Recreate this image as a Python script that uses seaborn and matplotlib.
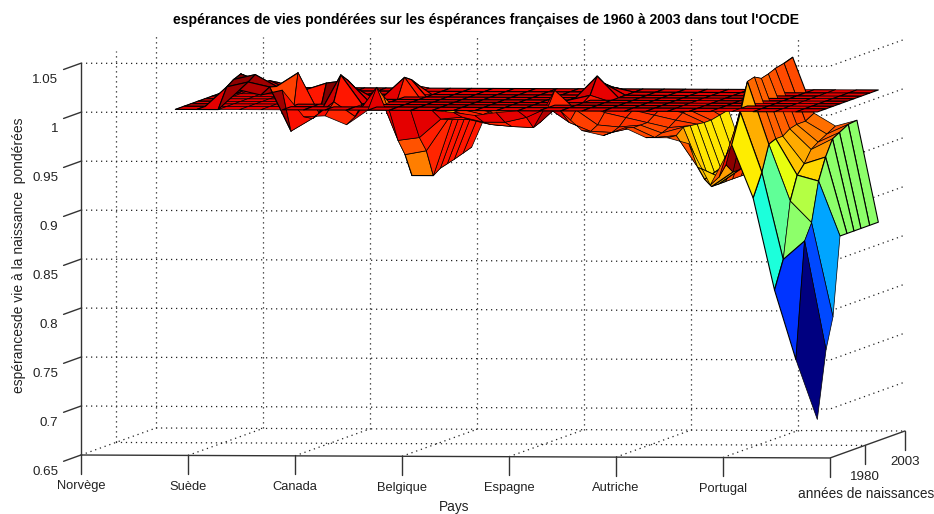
import numpy as np
import matplotlib
matplotlib.use("Agg")
import matplotlib.pyplot as plt
import seaborn as sns
from matplotlib.colors import Normalize
from mpl_toolkits.mplot3d.art3d import Poly3DCollection
from mpl_toolkits.mplot3d import proj3d

sns.set_style("white")
plt.rcParams["font.family"] = ["Liberation Sans", "DejaVu Sans"]

titre = "espérances de vies pondérées sur les éspérances françaises de 1960 à 2003 dans tout l'OCDE"
label_z = "espérancesde vie à la naissance  pondérées"
label_x = "Pays"
label_y = "années de naissances"
pays = ["Norvège", "Suède", "Canada", "Belgique", "Espagne", "Autriche", "Portugal"]
pays_pos = [1, 6, 11, 16, 21, 26, 31, 36]
annees_ticks = [1980, 2003]
z_ticks = [0.65, 0.7, 0.75, 0.8, 0.85, 0.9, 0.95, 1, 1.05]
z_labels = ["0.65", "0.7", "0.75", "0.8", "0.85", "0.9", "0.95", "1", "1.05"]
annees = [1965, 1970, 1974, 1978, 1982, 1986, 1990, 1995, 2000]
rangs = list(range(5, 36))
plan = 1.0
esperance = [
    [1, 1, 1, 1, 1, 1, 1, 1, 1],
    [1, 1, 1, 1, 1, 1.002, 1.002, 1.005, 1.005],
    [1, 1.02, 1.025, 1.028, 1.022, 1.02, 1.012, 1.01, 1.005],
    [1.02, 1.025, 1.03, 1.02, 1.01, 1.006, 1.003, 1, 1],
    [1.015, 1.02, 1.018, 1.012, 1.005, 1, 1, 1, 1],
    [1.02, .975, 1.032, 1.012, 1.005, 1, 1, 1, 1],
    [.993, .988, .99, 1.019, 1.005, 1, 1, 1, 1],
    [.994, 1.005, 1.03, 1.022, 1.012, 1, 1, 1, 1],
    [.985, .99, 1, 1, 1, 1, 1, 1, 1],
    [1, 1.02, 1.008, .998, 1, 1.02, 1.015, 1.005, 1],
    [1, .966, .949, .925, .985, .99, .99, .99, .99],
    [1, .969, .953, .925, .93, .932, .934, .937, .94],
    [1, .988, .985, .99, .99, .99, .99, .99, .99],
    [.998, .99, .985, .985, .985, .985, .987, .99, .99],
    [.995, .985, .98, .977, .976, .975, .985, .995, 1],
    [.998, .985, .978, .976, .975, .974, .98, .99, .995],
    [1, .99, .977, .98, .985, .99, .995, 1, 1],
    [1, 1, 1.015, 1, 1, 1, 1, 1, 1],
    [1, .985, .995, 1, 1.005, 1.022, 1.012, 1.005, 1],
    [.98, .976, .98, .99, .998, 1, 1, 1, 1],
    [.975, .975, .978, .985, .99, .99, .995, 1, 1],
    [.983, .98, .98, .98, .985, .99, .99, .995, 1],
    [.973, .97, .972, .975, .98, .985, .985, .99, .995],
    [.973, .972, .978, .977, .976, .975, .975, .977, .979],
    [.967, .94, .925, .915, .915, .915, .915, .915, .915],
    [.925, .93, .94, .93, .93, .97, .975, .98, .985],
    [.966, .996, 1.025, 1.027, 1.023, 1.025, 1.028, 1.03, 1.033],
    [.912, .935, .961, .964, .964, .969, .971, .971, .976],
    [.818, .846, .903, .927, .936, .948, .953, .958, .963],
    [.747, .865, .881, .921, .943, .959, .963, .968, .969],
    [.686, .754, .785, .865, .865, .865, .865, .865, .865],
]

Z = np.array(esperance, dtype=float)
cmap = matplotlib.colormaps["jet"]
norm = Normalize(vmin=Z.min(), vmax=1.03)

fig = plt.figure(figsize=(9.34, 5.14), dpi=100, facecolor="white")
ax = fig.add_axes([0, 0, 1, 1], projection="3d", proj_type="ortho", computed_zorder=False)
xmin, xmax, ymin, ymax, zmin, zmax = 1, 36, 1960, 2003, 0.65, 1.05
ax.set_xlim(xmin, xmax)
ax.set_ylim(ymin, ymax)
ax.set_zlim(zmin, zmax)
ax.set_box_aspect((753, 717, 392))
ax.view_init(elev=2.17, azim=-84, roll=0)
ax.set_axis_off()
ax.patch.set_alpha(0)

# Grid
dot = dict(color="#222222", lw=0.9, ls=(0, (1, 3)), zorder=1)
for z in z_ticks[1:]:
    ax.plot([xmin, xmax, xmax], [ymin, ymin, ymax], [z, z, z], **dot)
for x in pays_pos[:-1]:
    ax.plot([x, x], [ymax, ymax], [zmin, zmax], **dot)
    ax.plot([x, x], [ymin, ymax], [zmin, zmin], **dot)
ax.plot([xmin, xmin], [annees_ticks[0]] * 2, [zmin, zmax], **dot)
for y in annees_ticks:
    ax.plot([xmin, xmax], [y, y], [zmin, zmin], **dot)

# Surfaces (one collection so that the plane and the data are depth-sorted together)
polys, cols, widths = [], [], []
plane_col = cmap(norm(plan))
for i in range(len(rangs) - 1):
    for j in range(len(annees) - 1):
        xs = [rangs[i], rangs[i + 1], rangs[i + 1], rangs[i]]
        ys = [annees[j], annees[j], annees[j + 1], annees[j + 1]]
        polys.append(list(zip(xs, ys, [plan] * 4)))
        cols.append(plane_col)
        widths.append(0.5)
        zs = [Z[i, j], Z[i + 1, j], Z[i + 1, j + 1], Z[i, j + 1]]
        polys.append(list(zip(xs, ys, zs)))
        cols.append(cmap(norm(Z[i + 1, j])))
        widths.append(0.8)
coll = Poly3DCollection(polys, facecolors=cols, edgecolors="black", linewidths=widths, zsort="average", zorder=2)
ax.add_collection3d(coll)

# Axes, ticks and labels
ax_col = "#333333"
txt_col = "#222222"
ax.plot([xmin, xmax, xmax], [ymin, ymin, ymax], [zmin] * 3, color=ax_col, lw=1, zorder=3)
ax.plot([xmin, xmin], [ymin, ymin], [zmin, zmax], color=ax_col, lw=1, zorder=3)
for z, lab in zip(z_ticks, z_labels):
    ax.plot([xmin, xmin], [ymin, ymin - 10], [z, z], color=ax_col, lw=1, zorder=3)
    ax.text(xmin, ymin - 13, z - 0.0092, lab, ha="right", va="center", fontsize=9.6, color=txt_col)
for x in pays_pos:
    ax.plot([x, x], [ymin, ymin], [zmin, zmin - 0.019], color=ax_col, lw=1, zorder=3)
for x, lab in zip(pays_pos, pays):
    ax.text(x, ymin, zmin - 0.032, lab, ha="center", va="center", fontsize=9.3, color=txt_col)
for y in annees_ticks:
    ax.plot([xmax, xmax], [y, y], [zmin, zmin - 0.019], color=ax_col, lw=1, zorder=3)
    ax.text(xmax, y, zmin - 0.032, str(y), ha="center", va="center", fontsize=9.6, color=txt_col)

# Place the box so that its front edge falls where the reference has it
W, H = fig.canvas.get_width_height()
def corners():
    ax.apply_aspect()
    M = ax.get_proj()
    out = []
    for p in [(xmin, ymin, zmin), (xmax, ymin, zmin)]:
        u, v, _ = proj3d.proj_transform(*p, M)
        out.append(ax.transData.transform((u, v)))
    return np.array(out)
S = 1000.0
ax.set_position([0, 0, S / W, S / H])
c = corners()
S *= (830 - 81) / (c[1, 0] - c[0, 0])
ax.set_position([0, 0, S / W, S / H])
c = corners()
L = 81 - c[0, 0]
B = (H - 455) - c[0, 1]
ax.set_position([L / W, B / H, S / W, S / H])

fig.text(486 / W, 1 - 20 / H, titre, ha="center", va="center", fontsize=10.1, fontweight="bold", color="black")
fig.text(454 / W, 1 - 507 / H, label_x, ha="center", va="center", fontsize=9.8, color=txt_col)
fig.text(866 / W, 1 - 494 / H, label_y, ha="center", va="center", fontsize=9.8, color=txt_col)
fig.text(19 / W, 1 - 255 / H, label_z, ha="center", va="center", rotation=90, fontsize=10, color=txt_col)

fig.savefig("out.png", dpi=100)
